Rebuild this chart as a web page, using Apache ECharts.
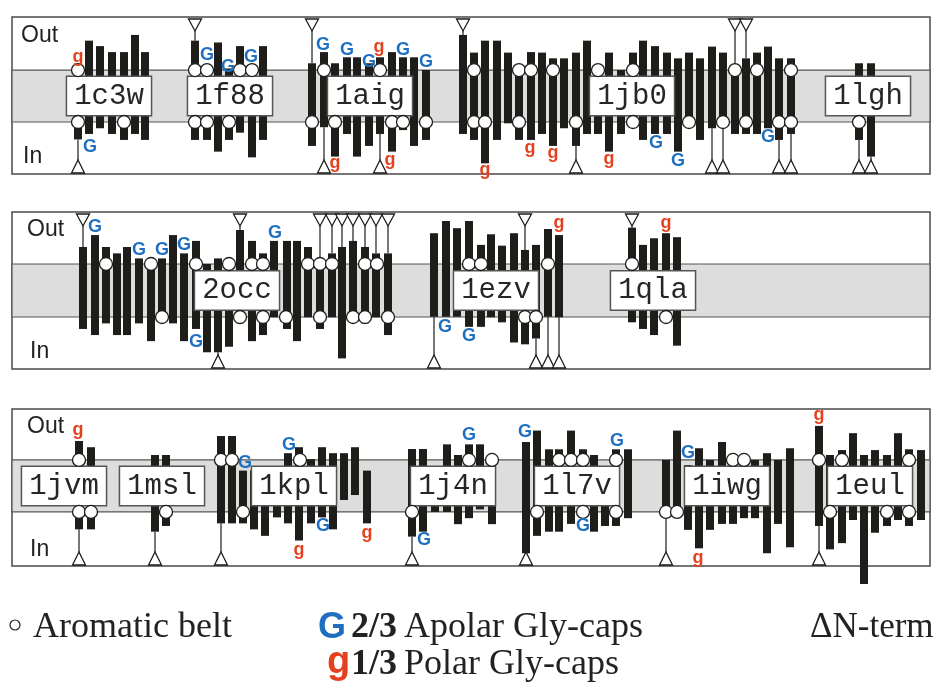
<!DOCTYPE html>
<html>
<head>
<meta charset="utf-8">
<script src="https://cdn.jsdelivr.net/npm/echarts@6/dist/echarts.min.js"></script>
<style>
  html, body { margin: 0; padding: 0; background: #fff; }
  #chart { width: 936px; height: 684px; }
</style>
</head>
<body>
<div id="chart"></div>
<script>
// helices: [x position, top end, bottom end], membrane units (belt edges at +1 / -1)
const bars1 = [
    // 1c3w
    [66, 1.06, -1.67], [77, 2.13, -1.46], [88, 1.92, -1.24], [100, 1.69, -1.46], [112, 1.69, -1.69], [123, 2.35, -1.46], [133, 1.69, -1.69],
    // 1f88
    [183, 2.13, -1.69], [195, 1.06, -1.69], [206, 2.06, -2.14], [217, 1.06, -1.69], [228, 1.92, -1.41], [240, 1.06, -2.36], [251, 1.92, -1.69],
    // 1aig
    [300, 1.26, -1.92], [312, 1.69, -1.20], [323, 1.26, -2.33], [335, 1.49, -1.46], [345, 1.49, -2.33], [357, 1.26, -1.92],
    [368, 1.49, -1.46], [380, 1.69, -2.14], [391, 1.49, -1.31], [402, 1.49, -1.92], [414, 1.00, -1.69],
    // 1jb0
    [451, 2.35, -1.46], [462, 1.67, -1.69], [473, 2.13, -2.59], [485, 2.13, -1.69], [496, 1.67, -1.05], [507, 1.00, -1.69],
    [519, 1.69, -1.69], [530, 1.67, -1.46], [541, 1.45, -1.92], [552, 1.45, -1.24], [564, 1.67, -1.92], [575, 2.13, -1.46],
    [586, 1.00, -1.46], [597, 1.67, -2.14], [609, 1.00, -1.46], [621, 1.67, -1.01], [631, 2.13, -1.69], [643, 1.92, -1.46],
    [655, 1.67, -1.46], [666, 1.45, -2.14], [677, 1.67, -1.01], [688, 1.45, -1.69], [700, 1.90, -1.24], [711, 1.67, -1.01],
    [723, 1.00, -1.46], [734, 1.45, -1.46], [745, 1.67, -1.46], [756, 1.90, -1.24], [767, 1.45, -1.69], [779, 1.45, -1.46],
    // 1lgh
    [847, 1.26, -1.69], [859, 1.26, -2.33]
];
const bars2 = [
    // 2occ
    [71, 1.64, -1.45], [83, 2.09, -1.68], [94, 1.64, -1.24], [105, 1.40, -1.68], [115, 1.64, -1.68], [127, 1.21, -1.24],
    [139, 1.00, -1.91], [150, 1.21, -1.01], [161, 2.09, -1.24], [172, 1.40, -1.91], [184, 1.87, -1.45], [195, 1.00, -2.33],
    [206, 1.21, -2.33], [217, 1.00, -2.12], [228, 2.28, -1.24], [240, 1.87, -1.91], [251, 1.40, -1.68], [262, 1.87, -1.01],
    [275, 1.87, -1.45], [285, 1.87, -1.91], [296, 1.64, -1.01], [308, 1.21, -1.45], [320, 1.40, -1.01], [330, 1.64, -2.56],
    [341, 1.87, -1.01], [353, 1.64, -1.24], [364, 1.40, -1.01], [376, 1.40, -1.68],
    // 1ezv
    [422, 2.16, -0.99], [434, 2.62, -0.99], [445, 2.35, -0.99], [457, 2.62, -1.37], [469, 1.72, -1.37], [479, 2.12, -1.01],
    [490, 1.69, -1.20], [502, 2.16, -1.96], [513, 1.53, -2.03], [524, 1.72, -1.81], [536, 2.32, -0.99], [547, 2.09, -1.01],
    // 1qla
    [620, 2.37, -1.20], [631, 1.72, -1.45], [642, 1.97, -1.68], [654, 2.16, -1.01], [665, 2.01, -2.08]
];
const bars3 = [
    // 1jvm
    [67, 1.73, -1.67], [79, 1.49, -1.67],
    // 1msl
    [143, 1.19, -1.76], [154, 1.19, -1.54],
    // 1kpl
    [209, 1.92, -1.44], [220, 1.92, -1.44], [231, 0.59, -1.44], [242, 0.60, -1.67], [253, 0.60, -1.92], [265, 0.60, -1.21],
    [276, 1.26, -1.44], [287, 1.49, -2.10], [299, 1.03, -1.44], [310, 1.49, -1.21], [321, 1.26, -1.67], [332, 1.26, -0.54],
    [343, 1.49, -0.35], [355, 0.59, -1.44],
    // 1j4n
    [400, 1.42, -1.95], [411, 1.42, -1.76], [423, 0.70, -1.00], [435, 1.60, -1.00], [446, 1.19, -1.47], [457, 1.60, -1.24],
    [468, 1.60, -0.90], [480, 1.06, -1.47],
    // 1l7v
    [514, 1.69, -2.59], [525, 2.13, -1.92], [537, 1.41, -1.76], [547, 1.41, -1.76], [559, 2.13, -1.46], [571, 1.41, -1.20],
    [582, 1.19, -1.76], [593, 0.70, -1.54], [604, 1.41, -1.54], [616, 1.41, -1.24],
    // 1iwg
    [654, 1.00, -1.01], [665, 2.13, -1.01], [676, 0.80, -1.69], [687, 1.45, -2.40], [698, 1.00, -1.69], [710, 1.69, -1.46],
    [721, 1.00, -1.46], [732, 1.00, -1.24], [743, 1.00, -1.24], [755, 1.26, -2.59], [766, 1.00, -1.46], [778, 1.45, -2.36],
    // 1eul
    [807, 2.31, -1.54], [818, 1.19, -2.44], [830, 1.38, -2.20], [841, 2.03, -1.31], [852, 1.19, -3.77], [863, 1.38, -1.80],
    [875, 1.19, -1.54], [886, 2.03, -1.31], [897, 1.41, -1.54], [909, 1.38, -1.31]
];

// aromatic belt residues: [x, side]  side 1 = outer edge, -1 = inner edge
const arom1 = [
    [66, 1], [66, -1], [112, -1],
    [183, 1], [195, 1], [228, 1], [240, 1], [183, -1], [195, -1], [217, -1],
    [312, 1], [368, 1], [300, -1], [323, -1], [380, -1], [391, -1], [414, -1],
    [462, 1], [507, 1], [519, 1], [541, 1], [586, 1], [621, 1], [723, 1], [745, 1], [779, 1],
    [462, -1], [473, -1], [507, -1], [564, -1], [621, -1], [677, -1], [711, -1], [734, -1], [767, -1], [779, -1],
    [847, -1]
];
const arom2 = [
    [94, 1], [139, 1], [184, 1], [217, 1], [240, 1], [251, 1], [296, 1], [308, 1], [320, 1], [353, 1], [365, 1],
    [150, -1], [228, -1], [251, -1], [274, -1], [308, -1], [341, -1], [353, -1], [376, -1],
    [457, 1], [469, 1], [536, 1], [513, -1], [524, -1],
    [620, 1], [654, -1]
];
const arom3 = [
    [67, 1], [67, -1], [79, -1],
    [154, -1],
    [209, 1], [220, 1], [288, 1], [231, -1],
    [400, -1], [457, 1], [480, 1],
    [547, 1], [559, 1], [571, 1], [604, 1], [525, -1], [571, -1], [604, -1],
    [654, -1], [665, -1], [721, 1], [732, 1],
    [807, 1], [830, 1], [897, 1], [818, -1], [875, -1], [897, -1]
];

// Gly caps: [x, y, kind]  'G' = 2/3 apolar, 'g' = 1/3 polar
const caps1 = [
    [66, 1.51, 'g'], [78, -1.97, 'G'],
    [195, 1.58, 'G'], [216, 1.13, 'G'], [239, 1.51, 'G'],
    [311, 1.96, 'G'], [335, 1.77, 'G'], [357, 1.32, 'G'], [367, 1.90, 'g'], [391, 1.77, 'G'], [414, 1.32, 'G'],
    [323, -2.59, 'g'], [378, -2.46, 'g'],
    [473, -2.85, 'g'], [518, -2.01, 'g'], [541, -2.20, 'g'], [597, -2.44, 'g'], [644, -1.82, 'G'], [666, -2.52, 'G'], [756, -1.56, 'G']
];
const caps2 = [
    [83, 2.41, 'G'], [127, 1.53, 'G'], [150, 1.53, 'G'], [172, 1.72, 'G'], [184, -1.93, 'G'], [263, 2.16, 'G'],
    [433, -1.37, 'G'], [457, -1.72, 'G'], [547, 2.53, 'g'], [654, 2.53, 'g']
];
const caps3 = [
    [66, 2.15, 'g'], [233, 0.87, 'G'], [277, 1.58, 'G'], [311, -1.54, 'G'], [287, -2.46, 'g'], [355, -1.82, 'g'],
    [457, 1.94, 'G'], [412, -2.08, 'G'], [513, 2.09, 'G'], [571, -1.56, 'G'], [605, 1.71, 'G'],
    [676, 1.26, 'G'], [686, -2.78, 'g'], [807, 2.73, 'g']
];

// N-terminus: [helix x, side]  1 = out, -1 = in
const nterm1 = [
    [183, 1], [300, 1], [451, 1], [723, 1], [734, 1],
    [66, -1], [312, -1], [368, -1], [564, -1], [700, -1], [711, -1], [767, -1], [779, -1], [847, -1], [859, -1]
];
const nterm2 = [
    [71, 1], [228, 1], [308, 1], [320, 1], [330, 1], [341, 1], [353, 1], [364, 1], [376, 1], [206, -1],
    [422, -1], [513, 1], [524, -1], [536, -1], [547, -1],
    [620, 1]
];
const nterm3 = [[67, -1], [143, -1], [209, -1], [400, -1], [514, -1], [654, -1], [807, -1]];

// PDB ids: [x, id]
const names1 = [[97, '1c3w'], [218, '1f88'], [358, '1aig'], [620, '1jb0'], [856, '1lgh']];
const names2 = [[225, '2occ'], [484, '1ezv'], [641, '1qla']];
const names3 = [[52, '1jvm'], [150, '1msl'], [282, '1kpl'], [441, '1j4n'], [565, '1l7v'], [715, '1iwg'], [858, '1eul']];

const INK = '#1e1d1a';
const BLUE = '#1f6fc1';
const RED = '#e4411f';

const panels = [
    { bars: bars1, arom: arom1, caps: caps1, nterm: nterm1, names: names1, top: 17, yMin: -3.0, yMax: 3.04 },
    { bars: bars2, arom: arom2, caps: caps2, nterm: nterm2, names: names2, top: 212, yMin: -2.96, yMax: 2.96 },
    { bars: bars3, arom: arom3, caps: caps3, nterm: nterm3, names: names3, top: 409, yMin: -3.08, yMax: 2.96 }
];

let chart = echarts.init(document.getElementById('chart'), null, { renderer: 'canvas' });

let grids = [], xAxes = [], yAxes = [], series = [];

panels.forEach(function (p, i) {
    grids.push({ left: 12, width: 918, top: p.top, height: 157, show: true, borderColor: '#4a4a4a', borderWidth: 1.5, backgroundColor: '#fff' });
    xAxes.push({ gridIndex: i, type: 'value', min: 0, max: 918, show: false });
    yAxes.push({ gridIndex: i, type: 'value', min: p.yMin, max: p.yMax, show: false });

    // membrane belt
    series.push({
        type: 'custom', xAxisIndex: i, yAxisIndex: i, z: 1, silent: true,
        data: [[0, 918]],
        renderItem: function (params, api) {
            let a = api.coord([api.value(0), 1]);
            let b = api.coord([api.value(1), -1]);
            return {
                type: 'rect',
                shape: { x: a[0], y: a[1], width: b[0] - a[0], height: b[1] - a[1] },
                style: { fill: '#dddddd', stroke: '#555', lineWidth: 1.2 }
            };
        }
    });

    // helices
    series.push({
        type: 'custom', xAxisIndex: i, yAxisIndex: i, z: 2, silent: true,
        data: p.bars,
        renderItem: function (params, api) {
            let t = api.coord([api.value(0), api.value(1)]);
            let b = api.coord([api.value(0), api.value(2)]);
            return {
                type: 'rect',
                shape: { x: t[0] - 4, y: t[1], width: 8, height: b[1] - t[1] },
                style: { fill: INK }
            };
        }
    });

    // N-term tethers and triangles
    let ntData = p.nterm.map(function (n) {
        let best = p.bars[0];
        p.bars.forEach(function (b) {
            if (Math.abs(b[0] - n[0]) < Math.abs(best[0] - n[0])) best = b;
        });
        return [best[0], n[1], n[1] > 0 ? best[1] : best[2]];
    });
    series.push({
        type: 'custom', xAxisIndex: i, yAxisIndex: i, z: 3, silent: true,
        data: ntData,
        renderItem: function (params, api) {
            let side = api.value(1);
            let end = api.coord([api.value(0), api.value(2)]);
            let cx = end[0];
            let cs = params.coordSys;
            let base, apex;
            if (side > 0) { base = cs.y + 2; apex = base + 12; }
            else { base = cs.y + cs.height - 1; apex = base - 13; }
            return {
                type: 'group',
                children: [
                    { type: 'line', shape: { x1: cx, y1: end[1], x2: cx, y2: apex }, style: { stroke: INK, lineWidth: 1.2 } },
                    { type: 'polygon', shape: { points: [[cx - 6.5, base], [cx + 6.5, base], [cx, apex]] },
                      style: { fill: '#fff', stroke: INK, lineWidth: 1.3 } }
                ]
            };
        }
    });

    // PDB id boxes
    series.push({
        type: 'scatter', xAxisIndex: i, yAxisIndex: i, z: 4, silent: true,
        symbol: 'rect', symbolSize: 1,
        itemStyle: { color: 'rgba(0,0,0,0)', opacity: 1 },
        data: p.names.map(function (n) { return { value: [n[0], 0], name: n[1] }; }),
        label: {
            show: true, position: 'inside',
            formatter: function (d) { return d.name; },
            fontFamily: '"Courier New", "Liberation Mono", monospace',
            fontSize: 29, lineHeight: 32, color: '#262626', opacity: 1,
            backgroundColor: '#fff', borderColor: '#555', borderWidth: 1.5,
            padding: [3, 7, 3, 7]
        }
    });

    // aromatic belt
    series.push({
        type: 'scatter', xAxisIndex: i, yAxisIndex: i, z: 5, silent: true,
        symbol: 'circle', symbolSize: 13,
        itemStyle: { color: '#fff', borderColor: INK, borderWidth: 1.3, opacity: 1 },
        data: p.arom.map(function (a) { return [a[0], a[1]]; })
    });

    // Gly caps
    series.push({
        type: 'scatter', xAxisIndex: i, yAxisIndex: i, z: 6, silent: true,
        symbol: 'rect', symbolSize: 1,
        itemStyle: { color: 'rgba(0,0,0,0)', opacity: 1 },
        data: p.caps.map(function (c) {
            return {
                value: [c[0], c[1]], name: c[2],
                label: { color: c[2] === 'G' ? BLUE : RED }
            };
        }),
        label: {
            show: true, position: 'inside', opacity: 1,
            formatter: function (d) { return d.name; },
            fontFamily: '"Liberation Sans", Arial, sans-serif',
            fontWeight: 'bold', fontSize: 18
        }
    });
});

function txt(x, y, text, font, fill, align) {
    return {
        type: 'text', x: x, y: y, silent: true,
        style: {
            text: text, font: font, fill: fill,
            align: align || 'left', verticalAlign: 'middle',
            textAlign: align || 'left', textVerticalAlign: 'middle'
        }
    };
}

const sideFont = '23px "Liberation Sans", Arial, sans-serif';
const serif = '36px "Liberation Serif", "Times New Roman", serif';
const serifBold = 'bold 36px "Liberation Serif", "Times New Roman", serif';

let graphics = [
    txt(21, 36, 'Out', sideFont, '#222'), txt(23, 157, 'In', sideFont, '#222'),
    txt(27, 230, 'Out', sideFont, '#222'), txt(30, 352, 'In', sideFont, '#222'),
    txt(27, 427, 'Out', sideFont, '#222'), txt(30, 550, 'In', sideFont, '#222'),
    { type: 'circle', silent: true, shape: { cx: 15, cy: 625, r: 5 }, style: { fill: '#fff', stroke: '#222', lineWidth: 1.2 } },
    txt(33, 628, 'Aromatic belt', serif, '#222'),
    txt(318, 628, 'G', 'bold 36px "Liberation Sans", Arial, sans-serif', BLUE),
    txt(351, 628, '2/3', serifBold, '#222'),
    txt(404, 628, 'Apolar Gly-caps', serif, '#222'),
    txt(327, 663, 'g', 'bold 38px "Liberation Sans", Arial, sans-serif', RED),
    txt(351, 665, '1/3', serifBold, '#222'),
    txt(404, 665, 'Polar Gly-caps', serif, '#222'),
    txt(810, 628, '\u0394N-term', '35px "Liberation Serif", "Times New Roman", serif', '#222')
];

chart.setOption({
    animation: false,
    backgroundColor: '#fff',
    grid: grids,
    xAxis: xAxes,
    yAxis: yAxes,
    series: series,
    graphic: graphics
});
</script>
</body>
</html>
